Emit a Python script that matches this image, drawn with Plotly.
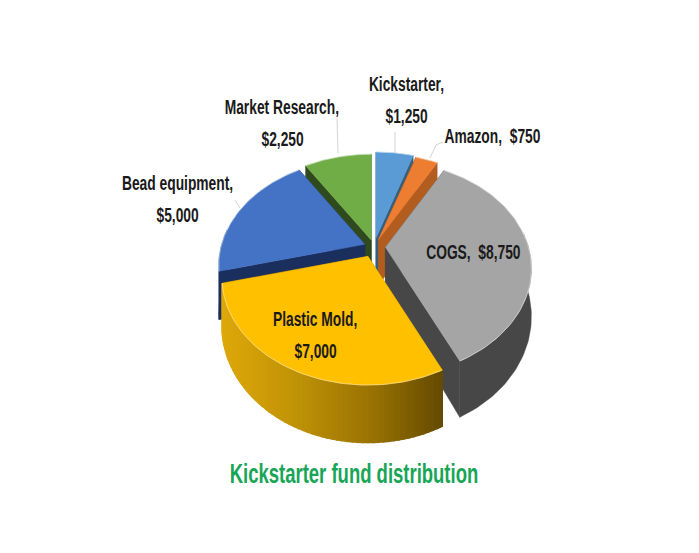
import numpy as np
import plotly.graph_objects as go

# data
categories = ["Kickstarter", "Amazon", "COGS", "Plastic Mold", "Bead equipment", "Market Research"]
amounts = [1250, 750, 8750, 7000, 5000, 2250]
chart_title = "Kickstarter fund distribution"

# look of the slices
top_colors = ["#5b9bd5", "#ed7d31", "#a5a5a5", "#ffc000", "#4472c4", "#70ad47"]
wall_colors = ["#34607f", "#b25c20", "#474747", "#8a6a00", "#1b2f5e", "#2f4a1c"]
pulls = [0.09, 0.08, 0.08, 0.10, 0.07, 0.07]
draw_order = [0, 5, 1, 4, 2, 3]  # back to front

# fake 3d camera, all in page pixels
CX, CY = 374, 247
RX, RY = 143, 103
PERSP = 0.2
DEPTH = 46

FONT = "Liberation Sans"


def project(theta, cx, cy, drop=0.0):
    # theta is clockwise from 12 o'clock, radians
    u = np.sin(theta)
    v = -np.cos(theta)
    s = 1 / (1 - PERSP * v)
    return cx + RX * u * s, cy + RY * v * s + drop * s


def poly(xs, ys, color, width=0.5):
    return go.Scatter(x=xs, y=ys, mode="lines", fill="toself", fillcolor=color,
                      line=dict(color=color, width=width),
                      hoverinfo="skip", showlegend=False)


def gold_shade(t):
    # side of the plastic mold slice goes dark towards its right end
    r = np.interp(t, [0, 0.35, 0.7, 1], [222, 190, 150, 100])
    g = np.interp(t, [0, 0.35, 0.7, 1], [168, 145, 112, 74])
    b = np.interp(t, [0, 1], [10, 0])
    return f"rgb({r:.0f},{g:.0f},{b:.0f})"


fig = go.Figure()

fractions = np.array(amounts) / sum(amounts)
ends = np.cumsum(fractions) * 2 * np.pi
starts = ends - fractions * 2 * np.pi

for i in draw_order:
    a0, a1 = starts[i], ends[i]
    mid = (a0 + a1) / 2
    cx = CX + RX * pulls[i] * np.sin(mid)
    cy = CY - RY * pulls[i] * np.cos(mid)
    thetas = np.linspace(a0, a1, 90)
    rim_x, rim_y = project(thetas, cx, cy)

    # flat walls on both cut edges
    for a in (a0, a1):
        ex, ey = project(a, cx, cy)
        ex2, ey2 = project(a, cx, cy, DEPTH)
        fig.add_trace(poly([cx, ex, ex2, cx, cx], [cy, ey, ey2, cy + DEPTH, cy], wall_colors[i]))

    # outer wall, only the part facing the viewer
    front = thetas[(thetas > np.pi / 2 - 0.15) & (thetas < 3 * np.pi / 2 + 0.15)]
    if len(front) > 1:
        if categories[i] == "Plastic Mold":
            strips = np.linspace(front[0], front[-1], 61)
            lo_x = project(strips[0], cx, cy)[0]
            hi_x = project(strips[-1], cx, cy)[0]
            for a, b in zip(strips[:-1], strips[1:]):
                xa, ya = project(a, cx, cy)
                xb, yb = project(b, cx, cy)
                xa2, ya2 = project(a, cx, cy, DEPTH)
                xb2, yb2 = project(b, cx, cy, DEPTH)
                t = ((xa + xb) / 2 - hi_x) / (lo_x - hi_x)
                fig.add_trace(poly([xa, xb, xb2, xa2, xa], [ya, yb, yb2, ya2, ya], gold_shade(t), width=1.5))
        else:
            fx, fy = project(front, cx, cy)
            fx2, fy2 = project(front, cx, cy, DEPTH)
            fig.add_trace(poly(np.r_[fx, fx2[::-1], fx[0]], np.r_[fy, fy2[::-1], fy[0]], wall_colors[i]))

    # top face
    fig.add_trace(poly(np.r_[cx, rim_x, cx], np.r_[cy, rim_y, cy], top_colors[i]))
    fig.add_trace(go.Scatter(x=rim_x, y=rim_y, mode="lines", hoverinfo="skip", showlegend=False,
                             line=dict(color="rgba(255,255,255,0.45)", width=1)))

# leader lines
leaders = [
    ([337, 338], [118, 153]),
    ([395, 395], [132, 153]),
    ([443, 436, 430], [142, 145, 158]),
    ([235, 240], [200, 208]),
]
for lx, ly in leaders:
    fig.add_trace(go.Scatter(x=lx, y=ly, mode="lines", line=dict(color="#d4d4d4", width=1),
                             hoverinfo="skip", showlegend=False))

# labels, text line then its centre on the page
money = [f"${v:,}" for v in amounts]
label_rows = [
    (categories[0] + ",", 406, 84),
    (money[0], 406, 116),
    (categories[1] + ",  " + money[1], 492, 136),
    (categories[2] + ",  " + money[2], 473, 252),
    (categories[3] + ",", 315, 319),
    (money[3], 315, 351),
    (categories[4] + ",", 177, 183),
    (money[4], 177, 215),
    (categories[5] + ",", 282, 107),
    (money[5], 282, 139),
]
for text, x, y in label_rows:
    fig.add_annotation(x=x, y=y, text=f"<b>{text}</b>", showarrow=False, xanchor="center", yanchor="middle",
                       font=dict(family=FONT, size=20, color="#1a1a1a"))

fig.update_layout(
    title=dict(text=f"<b>{chart_title}</b>", x=354 / 699, y=1 - 473 / 553, xanchor="center", yanchor="middle",
               font=dict(family=FONT, size=28, color="#17a556")),
    width=699,
    height=553,
    margin=dict(l=0, r=0, t=0, b=0),
    paper_bgcolor="white",
    plot_bgcolor="white",
    showlegend=False,
    xaxis=dict(range=[0, 699], visible=False, fixedrange=True),
    yaxis=dict(range=[553, 0], visible=False, fixedrange=True),
)

# no narrow font is installed, so squeeze the real text to the reference's width
squeeze = """
document.body.style.margin = '0';
function squeeze(sel, k) {
  document.querySelectorAll(sel).forEach(function (t) {
    t.setAttribute('textLength', t.getComputedTextLength() * k);
    t.setAttribute('lengthAdjust', 'spacingAndGlyphs');
  });
}
squeeze('.annotation-text', 0.69);
squeeze('.gtitle', 0.66);
"""

fig.write_html("out.html", post_script=squeeze, config={"displayModeBar": False})
